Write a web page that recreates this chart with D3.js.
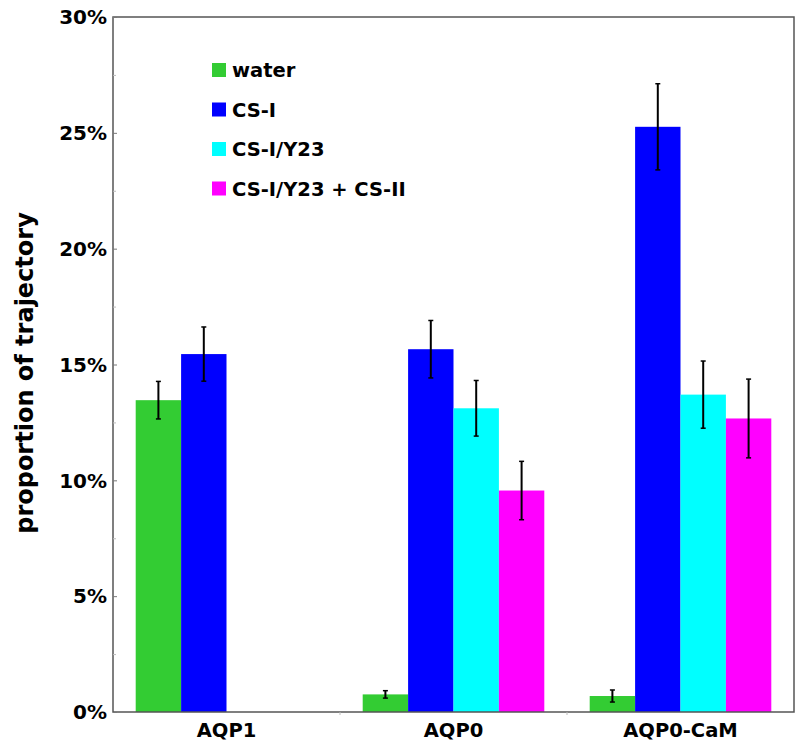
<!DOCTYPE html>
<html><head><meta charset="utf-8">
<script src="https://cdn.jsdelivr.net/npm/d3@7"></script>
<style>body{margin:0;background:#fff}svg{display:block}text{font-family:"DejaVu Sans","Liberation Sans",Arial,sans-serif;font-weight:bold;fill:#000}</style>
</head><body>
<script>
const groups = ["AQP1", "AQP0", "AQP0-CaM"];
const series = ["water", "CS-I", "CS-I/Y23", "CS-I/Y23 + CS-II"];
const colors = ["#33cc33", "#0000ff", "#00ffff", "#ff00ff"];
const water      = [13.46, 0.76, 0.69];
const csI        = [15.45, 15.66, 25.26];
const csIY23     = [null, 13.11, 13.70];
const csIY23csII = [null, 9.56, 12.67];
const waterErr      = [0.81, 0.16, 0.26];
const csIErr        = [1.17, 1.24, 1.86];
const csIY23Err     = [null, 1.20, 1.45];
const csIY23csIIErr = [null, 1.26, 1.70];
const yTicks = [0, 5, 10, 15, 20, 25, 30];
const yMinorTicks = [2.5, 7.5, 12.5, 17.5, 22.5, 27.5];

const values = [water, csI, csIY23, csIY23csII];
const errs = [waterErr, csIErr, csIY23Err, csIY23csIIErr];

const W = 800, H = 746;
const m = {left: 113, right: 6, top: 17, bottom: 34};
const svg = d3.select("body").append("svg").attr("width", W).attr("height", H);

const x0 = d3.scaleBand().domain(groups).range([m.left, W - m.right]).padding(0);
const bw = x0.bandwidth();
const x1 = d3.scaleBand().domain(series).range([bw * 0.1, bw * 0.9]).padding(0);
const y = d3.scaleLinear().domain([0, 30]).range([H - m.bottom, m.top]);

// bars
const data = [];
groups.forEach((g, gi) => series.forEach((s, si) => {
  const v = values[si][gi];
  if (v != null) data.push({g, s, si, v, e: errs[si][gi]});
}));
svg.append("g").selectAll("rect").data(data).join("rect")
  .attr("x", d => x0(d.g) + x1(d.s))
  .attr("y", d => y(d.v))
  .attr("width", x1.bandwidth())
  .attr("height", d => y(0) - y(d.v))
  .attr("fill", d => colors[d.si]);

// error bars
const eb = svg.append("g").attr("stroke", "#000").attr("stroke-width", 2);
data.forEach(d => {
  const cx = x0(d.g) + x1(d.s) + x1.bandwidth() / 2;
  eb.append("line").attr("x1", cx).attr("x2", cx).attr("y1", y(d.v + d.e)).attr("y2", y(d.v - d.e));
  eb.append("line").attr("x1", cx - 2.5).attr("x2", cx + 2.5).attr("y1", y(d.v + d.e)).attr("y2", y(d.v + d.e)).attr("stroke-width", 1.5);
  eb.append("line").attr("x1", cx - 2.5).attr("x2", cx + 2.5).attr("y1", y(d.v - d.e)).attr("y2", y(d.v - d.e)).attr("stroke-width", 1.5);
});

// frame
svg.append("rect").attr("x", m.left).attr("y", m.top)
  .attr("width", W - m.right - m.left).attr("height", y(0) - m.top)
  .attr("fill", "none").attr("stroke", "#555").attr("stroke-width", 1.5);

// y axis
const yAxis = svg.append("g").attr("transform", `translate(${m.left},0)`)
  .call(d3.axisRight(y).tickValues(yTicks).tickSize(4).tickFormat(""));
yAxis.select(".domain").remove();
yAxis.selectAll(".tick line").attr("stroke", "#777");
const yMinor = svg.append("g").attr("transform", `translate(${m.left},0)`)
  .call(d3.axisRight(y).tickValues(yMinorTicks).tickSize(3).tickFormat(""));
yMinor.select(".domain").remove();
yMinor.selectAll(".tick line").attr("stroke", "#bbb");

svg.append("g").selectAll("text").data(yTicks).join("text")
  .attr("x", m.left - 6).attr("y", d => y(d)).attr("dy", "0.36em")
  .attr("text-anchor", "end").style("font-size", "20px")
  .text(d => d + "%");

// x axis labels and ticks
svg.append("g").selectAll("line").data(groups.slice(1)).join("line")
  .attr("x1", d => x0(d)).attr("x2", d => x0(d))
  .attr("y1", y(0)).attr("y2", y(0) + 3).attr("stroke", "#bbb");
svg.append("g").selectAll("text").data(groups).join("text")
  .attr("x", d => x0(d) + bw / 2).attr("y", 737)
  .attr("text-anchor", "middle").style("font-size", "19.5px")
  .text(d => d);

// y title
svg.append("text").attr("transform", "translate(33,373) rotate(-90)")
  .attr("text-anchor", "middle").style("font-size", "24px")
  .text("proportion of trajectory");

// legend
const lg = svg.append("g").attr("transform", "translate(212,63)");
series.forEach((s, i) => {
  const row = lg.append("g").attr("transform", `translate(0,${i * 39.5})`);
  row.append("rect").attr("width", 14).attr("height", 14).attr("fill", colors[i]);
  row.append("text").attr("x", 20).attr("y", 7).attr("dy", "0.36em")
    .style("font-size", "19.5px").text(s);
});
</script>
</body></html>
